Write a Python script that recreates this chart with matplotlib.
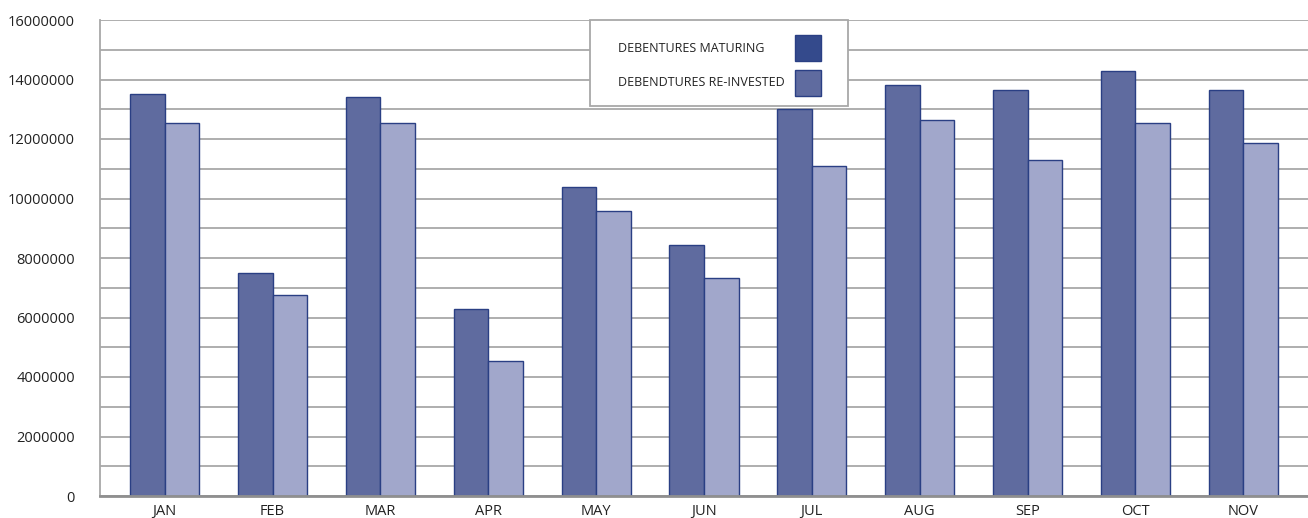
import matplotlib.pyplot as plt
import numpy as np
from matplotlib.patches import Rectangle

# -------------------------------
# Data
# -------------------------------
months = ['JAN', 'FEB', 'MAR', 'APR', 'MAY', 'JUN', 'JUL', 'AUG', 'SEP', 'OCT', 'NOV']
maturing = [13500000, 7500000, 13400000, 6280000, 10400000, 8450000,
            13000000, 13800000, 13650000, 14300000, 13650000]
reinvested = [12530000, 6750000, 12530000, 4530000, 9570000, 7320000,
              11100000, 12650000, 11300000, 12530000, 11850000]
legend_labels = ['DEBENTURES MATURING', 'DEBENDTURES RE-INVESTED']
y_ticks = np.arange(0, 16000001, 2000000)

plt.rcParams['font.family'] = ['Open Sans', 'DejaVu Sans']

fig = plt.figure(figsize=(13.08, 5.18), dpi=100)
ax = fig.add_axes([100 / 1308, 22 / 518, 1 - 100 / 1308, 476 / 518])

x = np.arange(len(months))
w = 0.32
edge = '#2a3f84'
ax.bar(x - w / 2, maturing, w, color='#5f6b9f', edgecolor=edge, linewidth=1, zorder=3)
ax.bar(x + w / 2, reinvested, w, color='#a1a7cb', edgecolor=edge, linewidth=1, zorder=3)

ax.set_xlim(-0.6, len(months) - 0.4)
ax.set_ylim(0, 16000000)
ax.set_yticks(y_ticks)
ax.set_yticklabels([str(v) for v in y_ticks], fontsize=10.5, color='#222222')
ax.set_yticks(np.arange(0, 16000001, 1000000), minor=True)
ax.yaxis.grid(True, which='both', color='#a8a8a8', linewidth=1.3, zorder=0)
ax.set_xticks(x)
ax.set_xticklabels(months, fontsize=10.5, color='#222222')
ax.tick_params(axis='both', which='both', length=0)
ax.tick_params(axis='y', pad=18)
ax.tick_params(axis='x', pad=6)

for s in ['top', 'right']:
    ax.spines[s].set_visible(False)
ax.spines['left'].set_color('#a8a8a8')
ax.spines['left'].set_linewidth(1.3)
ax.spines['bottom'].set_color('#8f8f8f')
ax.spines['bottom'].set_linewidth(2)
ax.spines['bottom'].set_zorder(4)

# -------------------------------
# Legend box (drawn by hand to match the layout)
# -------------------------------
def fx(px):
    return px / 1308

def fy(py):
    return 1 - py / 518

fig.patches.append(Rectangle((fx(590), fy(106)), fx(258), 86 / 518, transform=fig.transFigure,
                             facecolor='white', edgecolor='#a8a8a8', linewidth=1.3, zorder=5))
swatch_colors = ['#344a8c', '#5f6b9f']
for i, (lab, col) in enumerate(zip(legend_labels, swatch_colors)):
    yc = 48 + i * 35
    fig.text(fx(618), fy(yc), lab, fontsize=9, va='center', ha='left', color='#222222', zorder=6)
    fig.patches.append(Rectangle((fx(795), fy(yc + 13)), fx(26), 26 / 518, transform=fig.transFigure,
                                 facecolor=col, edgecolor=edge, linewidth=1, zorder=6))

fig.savefig('out.png', dpi=100)
